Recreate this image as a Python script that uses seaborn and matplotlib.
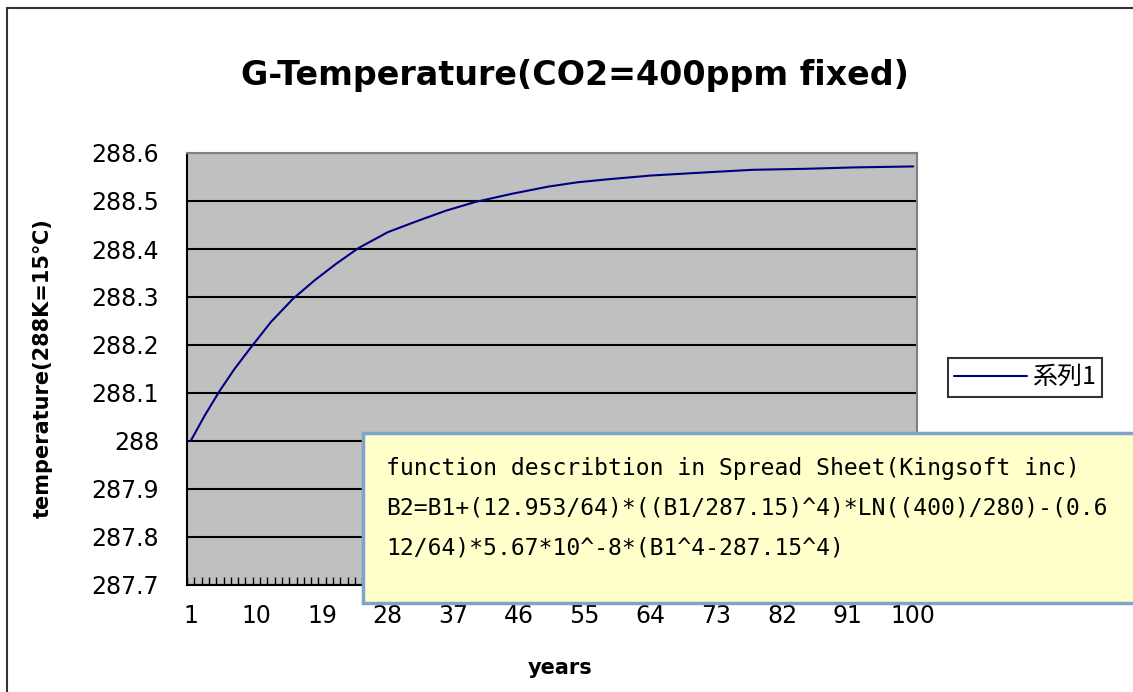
import matplotlib
matplotlib.use("Agg")
import numpy as np
import pandas as pd
import matplotlib.pyplot as plt
import matplotlib.patches as mpatches
import seaborn as sns

# values (year -> temperature in K)
years = [1, 3, 5, 7, 9, 12, 15, 18, 21, 24, 28, 32, 36, 40, 45, 50, 54, 58,
         64, 72, 78, 85, 92, 100]
temps = [288.000, 288.055, 288.105, 288.150, 288.190, 288.248, 288.296,
         288.335, 288.370, 288.402, 288.435, 288.458, 288.480, 288.498,
         288.515, 288.530, 288.539, 288.545, 288.553, 288.560, 288.565,
         288.567, 288.570, 288.572]
series_name = "系列1"
x_tick_labels = [1, 10, 19, 28, 37, 46, 55, 64, 73, 82, 91, 100]
y_ticks = [287.7, 287.8, 287.9, 288.0, 288.1, 288.2, 288.3, 288.4, 288.5, 288.6]
note_lines = [
    "function describtion in Spread Sheet(Kingsoft inc)",
    "B2=B1+(12.953/64)*((B1/287.15)^4)*LN((400)/280)-(0.6",
    "12/64)*5.67*10^-8*(B1^4-287.15^4)",
]

sns.set_style("white")
plt.rcParams["font.family"] = ["DejaVu Sans", "Noto Sans CJK JP"]
plt.rcParams["text.color"] = "black"

W, H = 1133, 692
fig = plt.figure(figsize=(W / 100, H / 100), dpi=100)

# plot area in pixels: left 187, right 917, top 153, bottom 585
ax = fig.add_axes([187 / W, 1 - 585 / H, (917 - 187) / W, (585 - 153) / H])
ax.set_facecolor("#c0c0c0")

df = pd.DataFrame({"year": years, "temp": temps})
sns.lineplot(data=df, x="year", y="temp", ax=ax, color="#000080",
             linewidth=1.5, label=series_name)

ax.set_xlim(0.5, 100.5)
ax.set_ylim(287.7, 288.6)
ax.set_yticks(y_ticks)
ax.set_yticklabels([f"{v:g}" for v in y_ticks])
ax.set_xticks(x_tick_labels)
ax.set_xticklabels([str(v) for v in x_tick_labels])
ax.set_xticks(np.arange(0.5, 101, 1), minor=True)

ax.yaxis.grid(True, color="black", linewidth=1.5)
ax.xaxis.grid(False)
ax.set_axisbelow(True)

ax.tick_params(axis="y", length=0, pad=20, labelsize=17, labelcolor="black")
ax.tick_params(axis="x", which="major", bottom=True, length=0, pad=14,
               labelsize=17, labelcolor="black")
ax.tick_params(axis="x", which="minor", bottom=True, direction="in",
               length=6, width=1, color="black")

for side in ["top", "right"]:
    ax.spines[side].set_color("#808080")
    ax.spines[side].set_linewidth(1.5)
for side in ["left", "bottom"]:
    ax.spines[side].set_color("black")
    ax.spines[side].set_linewidth(1.5)

ax.set_xlabel("years", fontsize=15, fontweight="bold", color="black")
ax.xaxis.set_label_coords((560 - 187) / 730, (585 - 658) / 432)
ax.set_ylabel("temperature(288K=15℃)", fontsize=15, fontweight="bold",
              color="black")
ax.yaxis.set_label_coords((53 - 187) / 730, (585 - 368) / 432)

fig.text(575 / W, 1 - 75 / H, "G-Temperature(CO2=400ppm fixed)",
         ha="center", va="center", fontsize=24, fontweight="bold",
         color="black")

leg = ax.legend(loc="upper left", bbox_to_anchor=(948 / W, 1 - 358 / H),
                bbox_transform=fig.transFigure, borderaxespad=0,
                frameon=True, fancybox=False, edgecolor="black",
                handlelength=2.9, handletextpad=0.2, borderpad=0.25,
                prop={"family": ["Noto Sans CJK JP", "DejaVu Sans"], "size": 18})
leg.get_frame().set_linewidth(1.5)
for t in leg.get_texts():
    t.set_color("black")

# chart area border (runs off right and bottom edges)
fig.add_artist(mpatches.Rectangle((7 / W, -0.2), 1.3, 1.2 - 8 / H,
                                  transform=fig.transFigure, fill=False,
                                  edgecolor="#333333", linewidth=1.5))

# yellow note box
fig.add_artist(mpatches.Rectangle((363 / W, 1 - 603 / H), 1.0, (603 - 433) / H,
                                  transform=fig.transFigure,
                                  facecolor="#ffffcc", edgecolor="#7fa4cc",
                                  linewidth=2.5, zorder=5))
for i, line in enumerate(note_lines):
    fig.text(386 / W, 1 - (468 + 40 * i) / H, line, ha="left", va="center",
             fontsize=16.6, family="DejaVu Sans Mono", color="black",
             zorder=6)

plt.savefig("out.png", dpi=100)
plt.close()
